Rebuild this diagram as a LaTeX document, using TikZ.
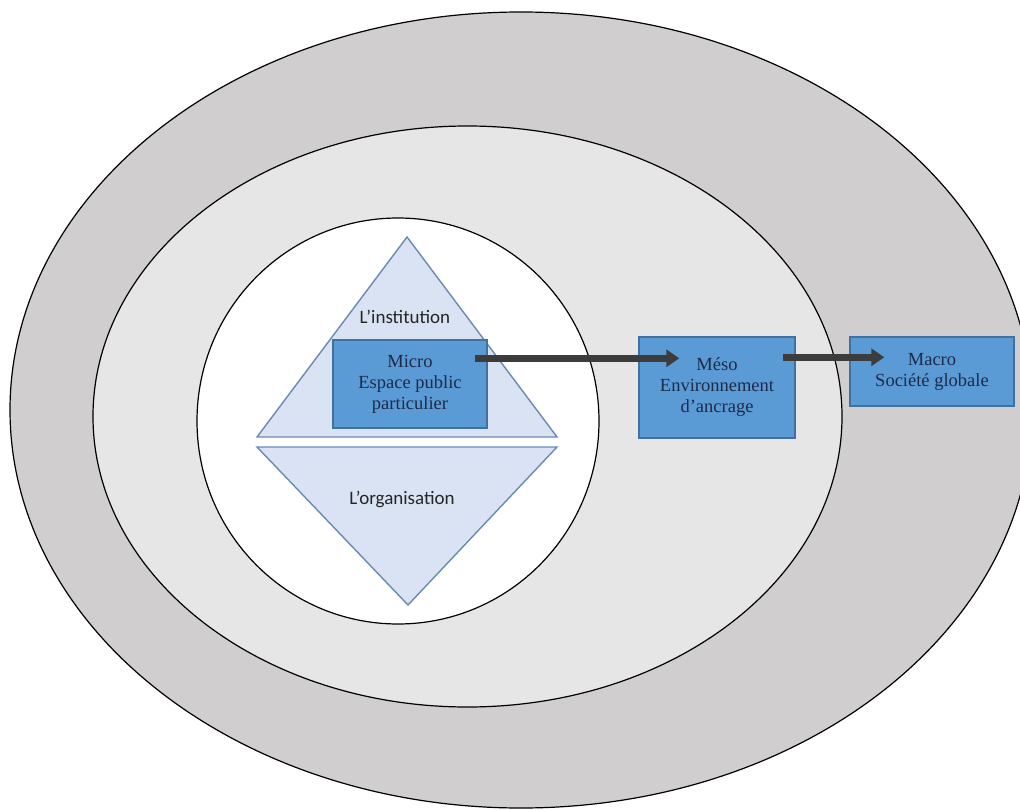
\documentclass[tikz,border=0pt]{standalone}
\usepackage{fontspec}
\setmainfont{Liberation Serif}
\newfontfamily\calibrifont{Carlito}
\usetikzlibrary{arrows.meta}
\definecolor{outerfill}{HTML}{D0CECE}
\definecolor{midfill}{HTML}{E7E6E6}
\definecolor{trifill}{HTML}{DAE3F3}
\definecolor{triline}{HTML}{6A8AB4}
\definecolor{boxfill}{HTML}{5B9BD5}
\definecolor{boxline}{HTML}{41719C}
\definecolor{boxtext}{HTML}{1C2B4A}
\definecolor{arrowcol}{HTML}{3C3C3C}
\tikzset{
  ring/.style={draw=black, line width=1.2pt},
  tri/.style={draw=triline, fill=trifill, line width=1.4pt, line join=miter},
  levelbox/.style={draw=boxline, fill=boxfill, line width=1.4pt, align=center,
    text=boxtext, font=\fontsize{18.5}{21}\selectfont, inner sep=0pt},
  trilabel/.style={font=\calibrifont\fontsize{19}{21}\selectfont, text=black!85, inner sep=0pt},
  flow/.style={draw=arrowcol, line width=7.5pt,
    -{Triangle[length=13pt,width=17pt]}}
}
\begin{document}
\begin{tikzpicture}[x=1pt,y=-1pt]
\useasboundingbox (0,0) rectangle (1020,810);
\clip (0,0) rectangle (1020,810);
% rings
\draw[ring, fill=outerfill] (521,410) ellipse [x radius=511pt, y radius=398pt];
\draw[ring, fill=midfill] (467.5,416.5) ellipse [x radius=374.5pt, y radius=290.5pt];
\draw[ring, fill=white] (398,421) ellipse [x radius=201pt, y radius=203pt];
% triangles
\draw[tri] (407,237) -- (557,437) -- (257,437) -- cycle;
\draw[tri] (257,447) -- (557,447) -- (408,605) -- cycle;
\node[trilabel] (inst) at (405,317) {L’institution};
\node[trilabel] (org) at (402,499) {L’organisation};
% boxes
\node[levelbox, minimum width=154pt, minimum height=88pt] (micro) at (410,384)
  {Micro\\Espace public\\particulier};
\node[levelbox, minimum width=156pt, minimum height=101pt] (meso) at (717,387.5)
  {Méso\\Environnement\\d’ancrage};
\node[levelbox, minimum width=164pt, minimum height=69pt] (macro) at (932,371.5)
  {Macro\\Société globale};
% arrows
\draw[flow] ([xshift=-13pt,yshift=-19pt]micro.north east) -- ([xshift=41pt,yshift=-22pt]meso.north west);
\draw[flow] ([xshift=-13pt,yshift=-21pt]meso.north east) -- ([xshift=35pt,yshift=-21pt]macro.north west);
\end{tikzpicture}
\end{document}
